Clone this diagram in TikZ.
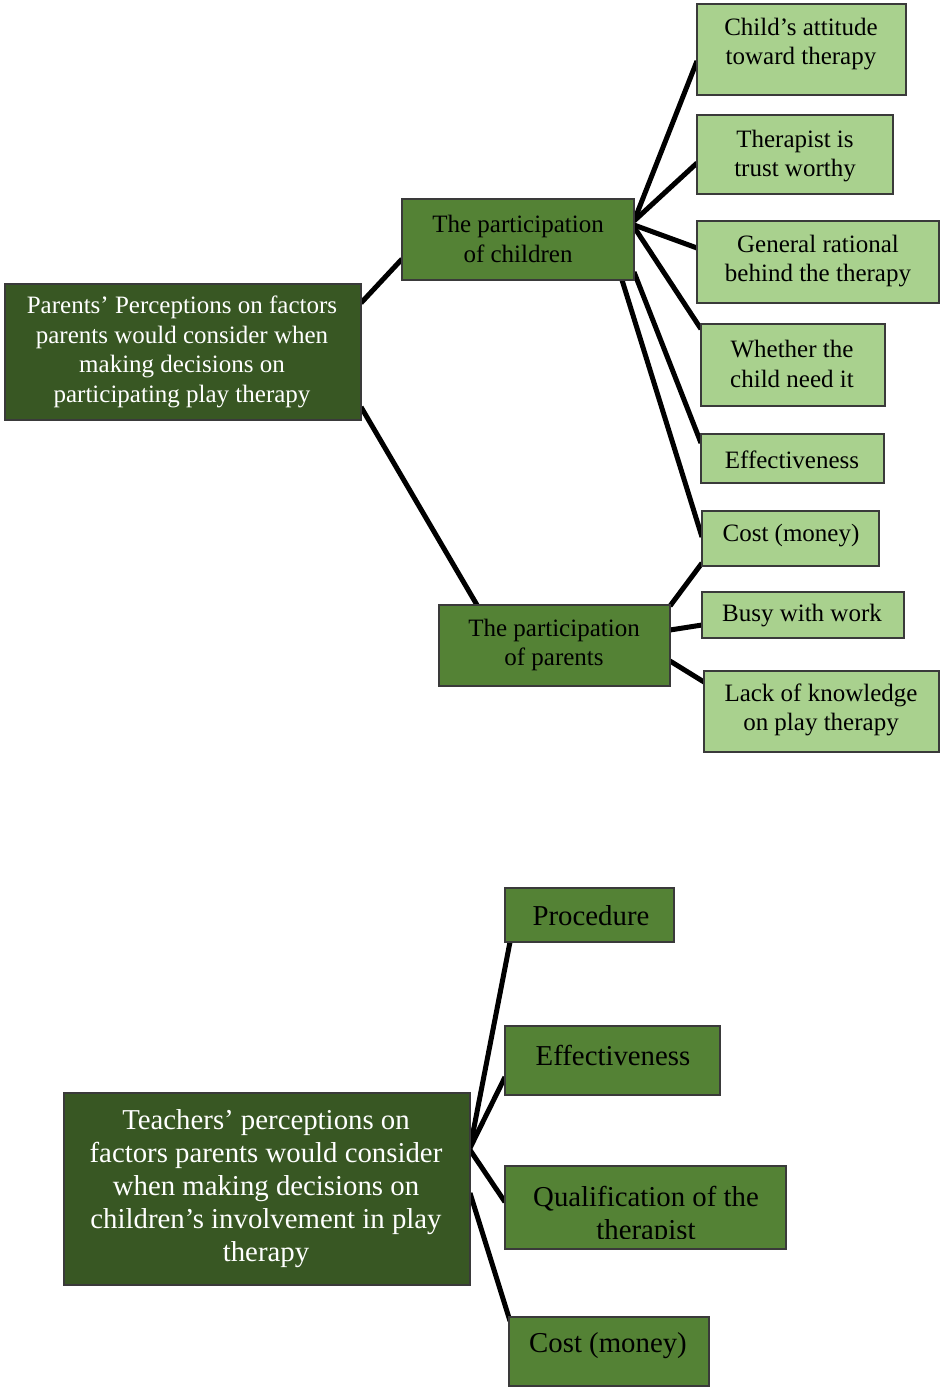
\documentclass[tikz,border=0pt]{standalone}
\usepackage{fontspec}
\setmainfont{Liberation Serif}
\usetikzlibrary{calc,backgrounds}
\definecolor{dkg}{HTML}{385723}
\definecolor{mdg}{HTML}{548235}
\definecolor{ltg}{HTML}{A9D18E}
\definecolor{bord}{HTML}{3A3A3A}
\tikzset{
 boxbase/.style={draw=bord, line width=1.1pt, inner sep=0pt, outer sep=0pt, rectangle},
 darkbox/.style={boxbase, fill=dkg},
 midbox/.style={boxbase, fill=mdg},
 lightbox/.style={boxbase, fill=ltg},
 txts/.style={align=center, inner sep=0pt, font=\fontsize{25}{29.5}\selectfont},
 txtl/.style={align=center, inner sep=0pt, font=\fontsize{28.8}{33}\selectfont},
 conn/.style={line width=5pt, black},
}
\newcommand\mkbox[6]{\node[#6, minimum width={(#4-#2)*1pt}, minimum height={(#5-#3)*1pt}] (#1) at ({(#2+#4)/2},{(#3+#5)/2}) {};}
\begin{document}
\begin{tikzpicture}[x=1pt,y=-1pt]
\useasboundingbox (0,0) rectangle (944,1391);
% ---------- top diagram ----------
\mkbox{rt}{5}{284}{361}{420}{darkbox}
\mkbox{pc}{402}{199}{634}{280}{midbox}
\mkbox{pp}{439}{605}{670}{686}{midbox}
\mkbox{la}{697}{4}{906}{95}{lightbox}
\mkbox{lb}{697}{115}{893}{194}{lightbox}
\mkbox{lc}{697}{221}{939}{303}{lightbox}
\mkbox{ld}{701}{324}{885}{406}{lightbox}
\mkbox{le}{701}{434}{884}{483}{lightbox}
\mkbox{lf}{702}{511}{879}{566}{lightbox}
\mkbox{lg}{702}{592}{904}{638}{lightbox}
\mkbox{lh}{704}{671}{939}{752}{lightbox}
\node[txts, text=white] (trt) at (182,352) {Parents’ Perceptions on factors\\parents would consider when\\making decisions on\\participating play therapy};
\node[txts] (tpc) at (518,239) {The participation\\of children};
\node[txts] (tpp) at (554,645) {The participation\\of parents};
\node[txts] (tla) at (801,44) {Child’s attitude\\toward therapy};
\node[txts] (tlb) at (795,156) {Therapist is\\trust worthy};
\node[txts] (tlc) at (818,261) {General rational\\behind the therapy};
\node[txts] (tld) at (792,364) {Whether the\\child need it};
\node[txts] (tle) at (792,460) {Effectiveness};
\node[txts] (tlf) at (791,536) {Cost (money)};
\node[txts] (tlg) at (802,616) {Busy with work};
\node[txts] (tlh) at (821,710) {Lack of knowledge\\on play therapy};
% ---------- bottom diagram ----------
\mkbox{tb}{64}{1093}{470}{1285}{darkbox}
\mkbox{ba}{505}{888}{674}{942}{midbox}
\mkbox{bb}{505}{1026}{720}{1095}{midbox}
\mkbox{bc}{505}{1166}{786}{1249}{midbox}
\mkbox{bd}{509}{1317}{709}{1386}{midbox}
\node[txtl, text=white] (ttb) at (266,1189) {Teachers’ perceptions on\\factors parents would consider\\when making decisions on\\children’s involvement in play\\therapy};
\node[txtl] (tba) at (591,916) {Procedure};
\node[txtl] (tbb) at (613,1055) {Effectiveness};
\begin{scope}
\clip ($(bc.north west)+(1,1)$) rectangle ($(bc.south east)+(-1,-11)$);
\node[txtl] (tbc) at (646,1216) {Qualification of the\\therapist};
\end{scope}
\node[txtl] (tbd) at (608,1346) {Cost (money)};
% ---------- connectors ----------
\begin{scope}[on background layer]
\draw[conn] ($(rt.north east)+(0,19)$) -- ($(pc.north west)+(0,60)$);
\draw[conn] ($(rt.south east)+(0,-13)$) -- ($(pp.north west)+(38,0)$);
\draw[conn] ($(pc.north east)+(0,22)$) -- ($(la.north west)+(0,57)$);
\draw[conn] ($(pc.north east)+(0,22)$) -- ($(lb.north west)+(0,48)$);
\draw[conn] ($(pc.north east)+(0,26)$) -- ($(lc.north west)+(0,27)$);
\draw[conn] ($(pc.north east)+(0,28)$) -- ($(ld.north west)+(0,5)$);
\draw[conn] ($(pc.south east)+(0,-8)$) -- ($(le.north west)+(0,9)$);
\draw[conn] ($(pc.south east)+(-12,0)$) -- ($(lf.north west)+(0,26)$);
\draw[conn] ($(pp.north east)+(0,1)$) -- ($(lf.south west)+(0,-3)$);
\draw[conn] ($(pp.north east)+(0,25)$) -- ($(lg.north west)+(0,33)$);
\draw[conn] ($(pp.north east)+(0,56)$) -- ($(lh.north west)+(0,11)$);
\draw[conn] ($(tb.north east)+(0,55)$) -- ($(ba.south west)+(5,0)$);
\draw[conn] ($(tb.north east)+(0,55)$) -- ($(bb.north west)+(0,51)$);
\draw[conn] ($(tb.north east)+(0,57)$) -- ($(bc.north west)+(0,36)$);
\draw[conn] ($(tb.north east)+(0,100)$) -- ($(bd.north west)+(1,4)$);
\end{scope}
\end{tikzpicture}
\end{document}
